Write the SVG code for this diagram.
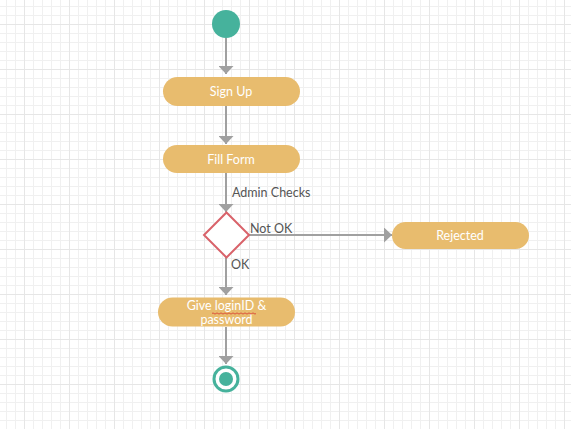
<svg xmlns="http://www.w3.org/2000/svg" width="571" height="429" viewBox="0 0 571 429">
<style>
.act{fill:#e8bc6e}
.at{fill:#ffffff;font-family:Lato,"Open Sans",sans-serif;font-size:12.5px;text-anchor:middle}
.lbl{fill:#555555;font-family:Lato,"Open Sans",sans-serif;font-size:12.5px}
.edge{stroke:#a0a0a0;stroke-width:2;fill:none}
</style>
<defs>
<pattern id="minor" width="9" height="9" patternUnits="userSpaceOnUse" x="6" y="6">
<path d="M0 0.5H9M0.5 0V9" stroke="#f0f0f0" stroke-width="1" fill="none"/>
</pattern>
<pattern id="major" width="45" height="45" patternUnits="userSpaceOnUse" x="24" y="24">
<path d="M0 0.5H45M0.5 0V45" stroke="#e6e6e6" stroke-width="1" fill="none"/>
</pattern>
<marker id="arr" viewBox="0 0 8 15" refX="8" refY="7.5" markerWidth="8" markerHeight="15" markerUnits="userSpaceOnUse" orient="auto">
<path d="M0 0L8 7.5L0 15z" fill="#a0a0a0"/>
</marker>
</defs>
<rect width="571" height="429" fill="#ffffff"/>
<rect width="571" height="429" fill="url(#minor)"/>
<rect width="571" height="429" fill="url(#major)"/>

<g id="connectors">
<path class="edge" d="M226 38V74" marker-end="url(#arr)"/>
<path class="edge" d="M226 106V144" marker-end="url(#arr)"/>
<path class="edge" d="M226 173V212" marker-end="url(#arr)"/>
<path class="edge" d="M249 235H392" marker-end="url(#arr)"/>
<path class="edge" d="M226 257V295" marker-end="url(#arr)"/>
<path class="edge" d="M226 327V364" marker-end="url(#arr)"/>
<text class="lbl" x="232" y="197">Admin Checks</text>
<text class="lbl" x="250" y="233">Not OK</text>
<text class="lbl" x="231" y="269">OK</text>
</g>

<g id="start">
<circle cx="226" cy="24" r="14" fill="#46b29c"/>
</g>

<g id="signup">
<rect class="act" x="163" y="77" width="137" height="29" rx="14.5"/>
<text class="at" x="231" y="96">Sign Up</text>
</g>

<g id="fillform">
<rect class="act" x="163" y="145" width="137" height="28" rx="14"/>
<text class="at" x="231" y="164">Fill Form</text>
</g>

<g id="decision">
<path d="M226.5 212.5L249 235L226.5 257.5L204 235z" fill="#ffffff" stroke="#d9626a" stroke-width="2"/>
</g>

<g id="rejected">
<rect class="act" x="392" y="222" width="137" height="27" rx="13.5"/>
<text class="at" x="460" y="240">Rejected</text>
</g>

<g id="give">
<rect class="act" x="158" y="297.5" width="137" height="29" rx="14.5"/>
<text class="at" x="226.5" y="309.5">Give loginID &amp;</text>
<text class="at" x="226.5" y="324">password</text>
<path d="M212 313.5q1 -1.2 2 0t2 0t2 0t2 0t2 0t2 0t2 0t2 0t2 0t2 0t2 0t2 0t2 0t2 0t2 0t2 0t2 0t2 0t2 0t2 0t2 0t2 0" stroke="#d8382e" stroke-width="0.8" fill="none"/>
</g>

<g id="end">
<circle cx="226" cy="379" r="12" fill="#ffffff" stroke="#46b29c" stroke-width="3"/>
<circle cx="226" cy="379" r="7" fill="#46b29c"/>
</g>
</svg>
